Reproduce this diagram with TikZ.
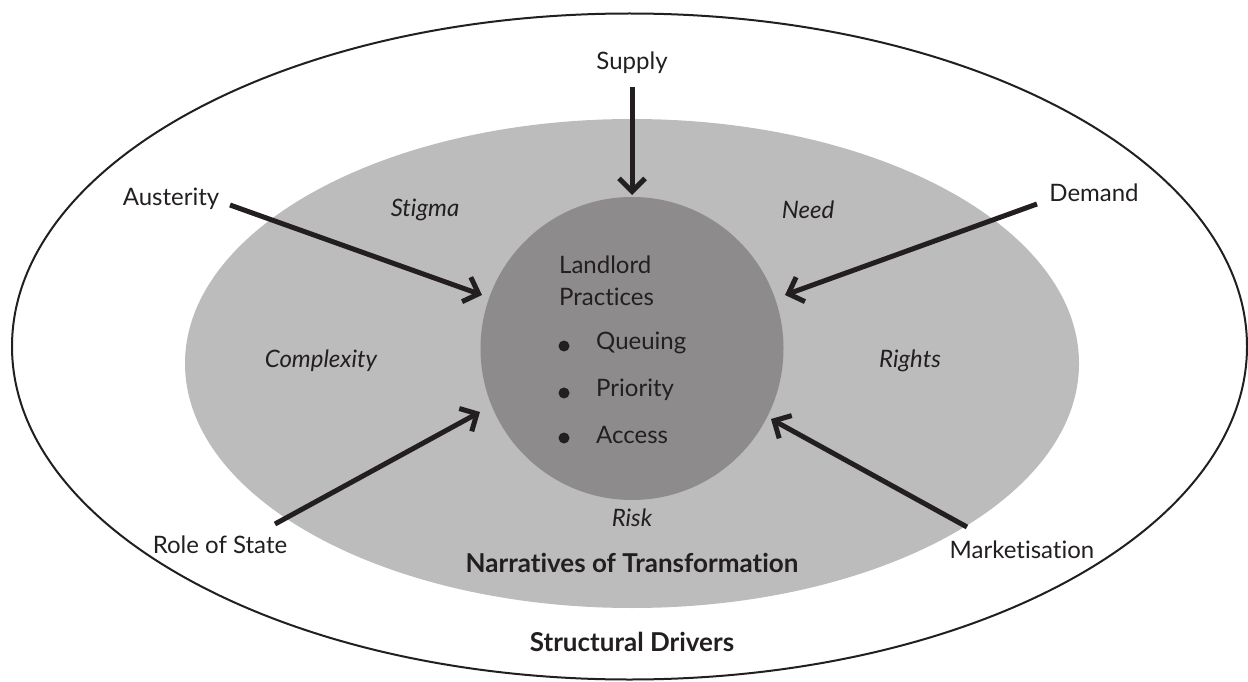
\documentclass[tikz,border=0pt]{standalone}
\usepackage{fontspec}
\setmainfont{Lato}[Ligatures=NoCommon]
\usetikzlibrary{arrows.meta}
\definecolor{ink}{HTML}{231F20}
\definecolor{ringgray}{HTML}{BCBCBC}
\definecolor{coregray}{HTML}{8D8B8C}
\begin{document}
\begin{tikzpicture}[x=1pt,y=-1pt,
  lbl/.style={font=\fontsize{24}{28}\selectfont, text=ink, inner sep=0pt},
  ilbl/.style={font=\fontsize{24}{28}\selectfont\itshape, text=ink, inner sep=0pt},
  blbl/.style={font=\fontsize{26}{30}\selectfont\bfseries, text=ink, inner sep=0pt},
  arr/.style={draw=ink, line width=5pt, -{Straight Barb[length=13pt, width=26pt]}},
  dot/.style={circle, fill=ink, inner sep=0pt, minimum size=11pt}]
\useasboundingbox (0,0) rectangle (1248,682);
% outer ellipse
\draw[ink, line width=2pt] (629.5,346.5) ellipse [x radius=617.5, y radius=333];
% inner ellipse
\fill[ringgray] (632,363.5) ellipse [x radius=447, y radius=244.5];
% core circle
\node[circle, fill=coregray, minimum size=303pt, inner sep=0pt] (lp) at (632,348.5) {};
% texts
\node[lbl] (supply) at (632,63) {Supply};
\node[lbl] (aust) at (171,199) {Austerity};
\node[lbl] (dem) at (1094,193) {Demand};
\node[lbl] (role) at (220,545) {Role of State};
\node[lbl] (mkt) at (1022,550) {Marketisation};
\node[ilbl] (stigma) at (425,210) {Stigma};
\node[ilbl] (need) at (808,210) {Need};
\node[ilbl] (cplx) at (321,361) {Complexity};
\node[ilbl] (rights) at (910,361) {Rights};
\node[ilbl] (risk) at (632,518) {Risk};
\node[blbl] (narr) at (632,563) {Narratives of Transformation};
\node[blbl] (struct) at (632,642) {Structural Drivers};
\node[lbl, anchor=west, align=left, font=\fontsize{24}{32}\selectfont] (lord) at (559,281) {Landlord\\Practices};
\node[lbl, anchor=west] (q) at (596,343) {Queuing};
\node[lbl, anchor=west] (p) at (596,390) {Priority};
\node[lbl, anchor=west] (a) at (596,435) {Access};
\node[dot] (bq) at (564,346) {};
\node[dot] (bp) at (564,393) {};
\node[dot] (ba) at (564,438) {};
% arrow end points
\coordinate (supS) at (632,87);
\coordinate (supT) at (632,195);
\coordinate (ausS) at (230,205);
\coordinate (ausT) at (482,295);
\coordinate (demS) at (1037,204);
\coordinate (demT) at (785,295);
\coordinate (rolS) at (275,524);
\coordinate (rolT) at (480,412);
\coordinate (mktS) at (967,527);
\coordinate (mktT) at (771,419);
\draw[arr] (supS) -- (supT);
\draw[arr] (ausS) -- (ausT);
\draw[arr] (demS) -- (demT);
\draw[arr] (rolS) -- (rolT);
\draw[arr] (mktS) -- (mktT);
\end{tikzpicture}
\end{document}
